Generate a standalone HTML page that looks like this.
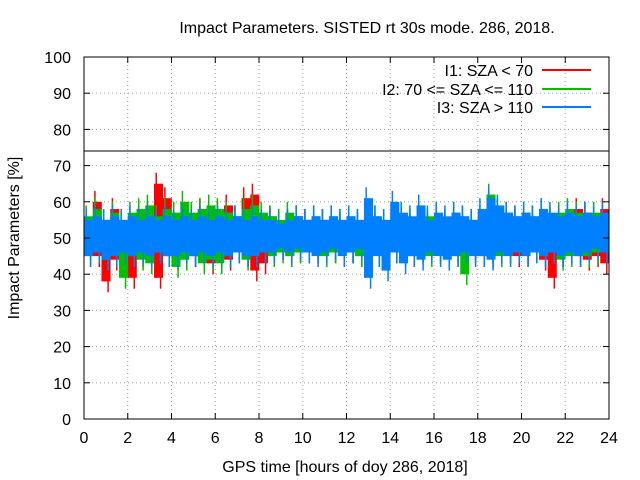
<!DOCTYPE html>
<html><head><meta charset="utf-8"><style>
html,body{margin:0;padding:0;background:#fff;}
svg{display:block;font-family:"Liberation Sans",sans-serif;}
</style></head><body>
<svg id="chart" width="640" height="480" viewBox="0 0 640 480" xmlns="http://www.w3.org/2000/svg">
<rect width="640" height="480" fill="#fff"/>
<g id="grid"></g>
<g id="series"></g>
<line x1="84" x2="609" y1="151" y2="151" stroke="#000" stroke-width="1"/>
<rect x="84" y="57" width="525" height="362" fill="none" stroke="#000" stroke-width="1"/>
<g id="ticks" font-size="16" fill="#000"></g>
<text x="367" y="33" font-size="16" text-anchor="middle">Impact Parameters. SISTED rt 30s mode. 286, 2018.</text>
<text x="19" y="238" font-size="16" text-anchor="middle" transform="rotate(-90 19 238)">Impact Parameters [%]</text>
<text x="345" y="472" font-size="16" text-anchor="middle">GPS time [hours of doy 286, 2018]</text>
<g font-size="16">
<g><text x="533" y="76" text-anchor="end">I1: SZA &lt; 70</text><line x1="542" x2="591" y1="70" y2="70" stroke="#ff0000" stroke-width="2"/></g>
<g><text x="533" y="95" text-anchor="end">I2: 70 &lt;= SZA &lt;= 110</text><line x1="542" x2="591" y1="89" y2="89" stroke="#00c000" stroke-width="2"/></g>
<g><text x="533" y="113" text-anchor="end">I3: SZA &gt; 110</text><line x1="542" x2="591" y1="107" y2="107" stroke="#0080ff" stroke-width="2"/></g>
</g>
</svg>
<script>
const xTicks = [0,2,4,6,8,10,12,14,16,18,20,22,24];
const yTicks = [0,10,20,30,40,50,60,70,80,90,100];
const seriesI1 = [57,44,63,42,58,35,61,41,58,43,57,36,59,42,60,43,68,36,64,42,58,41,60,43,59,42,61,44,58,40,60,42,62,41,59,43,64,42,65,38,58,40,59,43,57,44,58,42,59,43,58,44,57,43,58,44,56,43,57,44,58,43,57,42,58,44,57,43,56,44,57,43,58,44,57,42,58,43,57,44,58,43,57,44,58,42,57,43,58,44,57,43,58,42,57,44,59,43,58,42,58,43,57,44,59,41,58,36,59,42,58,43,61,42,60,41,59,42,61,40];
const seriesI2 = [59,42,61,43,58,41,60,44,57,36,60,42,61,41,62,40,59,43,61,42,60,39,63,41,60,42,61,40,62,41,61,40,60,42,59,43,61,41,62,42,60,43,59,42,58,43,60,42,59,43,58,43,59,44,58,42,59,43,58,44,59,43,58,42,60,44,59,43,58,42,60,43,59,42,58,43,60,44,59,42,59,43,58,42,60,43,59,37,58,43,59,42,65,43,61,42,60,43,59,44,60,42,59,43,61,42,59,43,60,41,61,42,60,43,59,42,60,43,59,44];
const seriesI3 = [58,42,59,43,58,41,59,42,58,43,59,42,58,43,59,42,58,43,59,42,58,42,59,43,58,42,59,43,58,42,59,43,58,42,59,43,58,42,59,42,58,43,58,43,57,44,58,43,59,44,58,43,59,42,58,43,59,44,58,42,59,43,58,44,64,36,59,42,58,38,63,43,60,40,59,42,62,41,58,43,60,42,59,41,60,42,59,43,58,42,61,42,64,41,62,43,60,42,59,43,60,42,59,43,61,42,60,43,59,42,60,43,59,42,60,43,59,44,60,43];
const threshold = 74;

const X0=84,X1=609,Y0=419,Y1=57;
const xs = v => X0 + (v-0)/(24-0)*(X1-X0);
const ys = v => Y0 - (v-0)/(100-0)*(Y0-Y1);
const NS="http://www.w3.org/2000/svg";
const grid=document.getElementById('grid'), ticks=document.getElementById('ticks'), series=document.getElementById('series');
function mk(tag, attrs, parent){const e=document.createElementNS(NS,tag);for(const k in attrs)e.setAttribute(k,attrs[k]);parent.appendChild(e);return e;}

xTicks.forEach(t=>{
  const x=xs(t);
  if(t>0&&t<24){const g=mk('line',{x1:x,x2:x,y1:Y1,y2:Y0,stroke:'#a0a0a0','stroke-dasharray':'1,3'},grid);
  
  }
  const l1=mk('line',{x1:x,x2:x,y1:Y0,y2:Y0-6,stroke:'#000'},ticks);
  
  
  const l2=mk('line',{x1:x,x2:x,y1:Y1,y2:Y1+6,stroke:'#000'},ticks);
  
  
  const tx=mk('text',{x:x,y:Y0+24,'text-anchor':'middle'},ticks);
  tx.textContent=t;
  
  
});
yTicks.forEach(t=>{
  const y=ys(t);
  if(t>0&&t<100){const g=mk('line',{x1:X0,x2:X1,y1:y,y2:y,stroke:'#a0a0a0','stroke-dasharray':'1,3'},grid);
  
  }
  const l1=mk('line',{x1:X0,x2:X0+6,y1:y,y2:y,stroke:'#000'},ticks);
  
  
  const l2=mk('line',{x1:X1,x2:X1-6,y1:y,y2:y,stroke:'#000'},ticks);
  
  
  const tx=mk('text',{x:X0-13,y:y+6,'text-anchor':'end'},ticks);
  tx.textContent=t;
  
  
});
function draw(vals,color,name){
  const n=vals.length;
  const g=mk('g',{},series);
  
  
  for(let i=0;i+1<n;i+=2){
    const hi=Math.max(vals[i],vals[i+1])-3, lo=Math.min(vals[i],vals[i+1])+3;
    if(hi<=lo) continue;
    const xa=xs(i*24/n), xb=xs((i+2)*24/n);
    const r=mk('rect',{x:xa.toFixed(2),y:ys(hi).toFixed(2),width:(xb-xa+0.3).toFixed(2),height:(ys(lo)-ys(hi)).toFixed(2),fill:color},g);
    
    
  }
  vals.forEach((v,i)=>{
    const x=xs((i+0.5)*24/n);
    const s=mk('line',{x1:x.toFixed(1),x2:x.toFixed(1),y1:ys(50).toFixed(1),y2:ys(v).toFixed(1),stroke:color,'stroke-width':1.5},g);
    
    
  });
}
draw(seriesI1,'#ff0000','series-i1');
draw(seriesI2,'#00c000','series-i2');
draw(seriesI3,'#0080ff','series-i3');
</script>
</body></html>
